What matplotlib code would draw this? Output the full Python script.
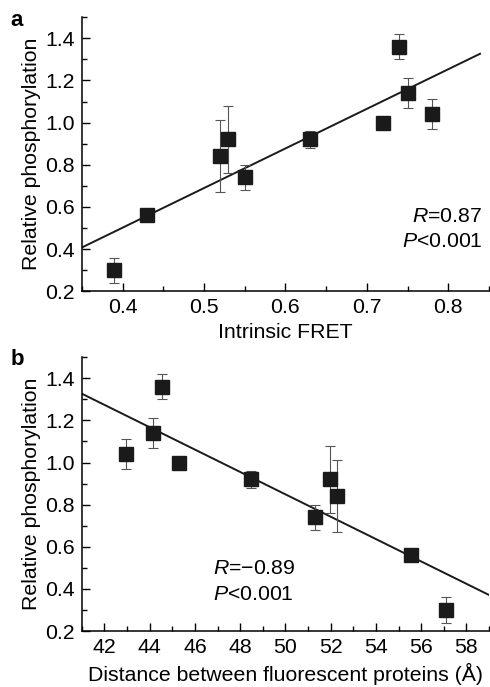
import numpy as np
import matplotlib.pyplot as plt
from matplotlib.ticker import MultipleLocator

plt.rcParams['font.family'] = ['Liberation Sans', 'DejaVu Sans']
plt.rcParams['mathtext.fontset'] = 'custom'
plt.rcParams['mathtext.it'] = 'Liberation Sans:italic'
plt.rcParams['mathtext.rm'] = 'Liberation Sans'

# panel a: intrinsic FRET vs relative phosphorylation
fret = [0.39, 0.43, 0.52, 0.53, 0.55, 0.63, 0.72, 0.74, 0.75, 0.78]
phos = [0.30, 0.56, 0.84, 0.92, 0.74, 0.92, 1.00, 1.36, 1.14, 1.04]
phos_err = [0.06, 0.01, 0.17, 0.16, 0.06, 0.04, 0.0, 0.06, 0.07, 0.07]
fit_a = (1.879, -0.250)   # slope, intercept
fit_a_x = [0.35, 0.839]

# panel b: distance between fluorescent proteins
dist = [57.1, 55.55, 52.3, 51.96, 51.3, 48.5, 45.31, 44.56, 44.15, 42.96]
fit_b = (-0.0531, 3.504)
fit_b_x = [41, 59]

fs = 15.3

fig = plt.figure(figsize=(4.9, 6.87), dpi=100)
ax1 = fig.add_axes([0.167, 0.576, 0.831, 0.399])
ax2 = fig.add_axes([0.167, 0.0815, 0.831, 0.3985])


def style(ax):
    for s in ['top', 'right']:
        ax.spines[s].set_visible(False)
    for s in ['left', 'bottom']:
        ax.spines[s].set_linewidth(1.1)
    ax.tick_params(which='major', direction='in', length=6, width=1.0, labelsize=fs, pad=5)
    ax.tick_params(which='minor', direction='in', length=3.5, width=1.0)
    ax.set_ylim(0.2, 1.5)
    ax.yaxis.set_major_locator(MultipleLocator(0.2))
    ax.yaxis.set_minor_locator(MultipleLocator(0.1))
    ax.yaxis.set_major_formatter(plt.FormatStrFormatter('%.1f'))
    ax.set_ylabel('Relative phosphorylation', fontsize=fs, labelpad=3)


ax1.errorbar(fret, phos, yerr=phos_err, fmt='s', color='#1a1a1a', ms=9.5,
             ecolor='#555555', elinewidth=0.8, capsize=3.5, capthick=0.8, zorder=3)
xa = np.array(fit_a_x)
ax1.plot(xa, fit_a[0] * xa + fit_a[1], color='#1a1a1a', lw=1.4, zorder=2)
ax1.set_xlim(0.35, 0.85)
ax1.xaxis.set_major_locator(MultipleLocator(0.1))
ax1.xaxis.set_minor_locator(MultipleLocator(0.05))
ax1.xaxis.set_major_formatter(plt.FormatStrFormatter('%.1f'))
style(ax1)
ax1.set_xlabel('Intrinsic FRET', fontsize=fs, labelpad=4)
ax1.text(0.842, 0.555, '$R$=0.87', fontsize=fs, ha='right', va='center')
ax1.text(0.842, 0.435, '$P$<0.001', fontsize=fs, ha='right', va='center')

ax2.errorbar(dist, phos, yerr=phos_err, fmt='s', color='#1a1a1a', ms=9.5,
             ecolor='#555555', elinewidth=0.8, capsize=3.5, capthick=0.8, zorder=3)
xb = np.array(fit_b_x)
ax2.plot(xb, fit_b[0] * xb + fit_b[1], color='#1a1a1a', lw=1.4, zorder=2)
ax2.set_xlim(41, 59)
ax2.xaxis.set_major_locator(MultipleLocator(2))
ax2.xaxis.set_minor_locator(MultipleLocator(1))
style(ax2)
ax2.set_xlabel('Distance between fluorescent proteins (Å)', fontsize=fs, labelpad=4)
ax2.text(46.8, 0.495, '$R$=\u22120.89', fontsize=fs, ha='left', va='center')
ax2.text(46.8, 0.375, '$P$<0.001', fontsize=fs, ha='left', va='center')

fig.text(0.022, 0.962, 'a', fontsize=16, fontweight='bold')
fig.text(0.022, 0.468, 'b', fontsize=16, fontweight='bold')

fig.savefig('out.png', dpi=100)
